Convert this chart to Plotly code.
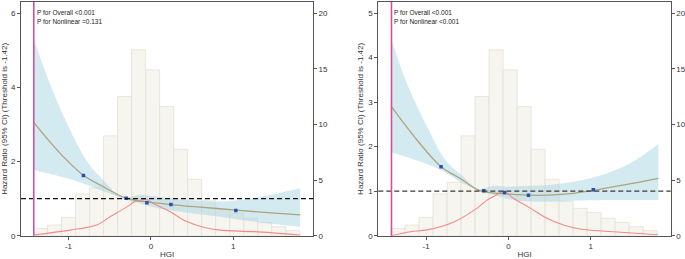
import numpy as np
import plotly.graph_objects as go

# ---------------- data ----------------
threshold = -1.42
bin_width = 0.170
hist_start_left = -1.424
hist_start_right = -1.425
counts_left = [0.66, 0.96, 1.65, 3.75, 4.3, 8.97, 12.5, 16.7, 14.9, 11.6, 7.77, 5.07, 3.14, 2.4, 2.0, 1.56, 1.17, 0.81, 0.45]
counts_right = [0.66, 0.96, 1.65, 3.75, 4.8, 8.97, 12.5, 16.7, 14.9, 11.6, 7.77, 5.07, 3.1, 2.46, 2.1, 1.56, 1.2, 0.81, 0.45]

# left panel: HR curve
curve_x_left = [-1.424, -1.10, -0.818, -0.576, -0.30, -0.05, 0.24, 0.60, 1.03, 1.42, 1.81]
curve_y_left = [3.06, 2.22, 1.63, 1.32, 1.01, 0.91, 0.84, 0.77, 0.69, 0.62, 0.56]
upper_x_left = [-1.424, -1.242, -0.979, -0.758, -0.576, -0.353, -0.13, 0.03, 0.436, 0.84, 1.24, 1.485, 1.81]
upper_y_left = [5.32, 4.20, 2.85, 1.95, 1.50, 1.05, 1.10, 1.07, 0.96, 0.92, 1.01, 1.12, 1.28]
lower_x_left = [-1.424, -1.18, -0.818, -0.576, -0.373, -0.29, -0.13, 0.03, 0.436, 0.84, 1.24, 1.81]
lower_y_left = [1.77, 1.64, 1.41, 1.20, 1.03, 0.96, 0.87, 0.77, 0.62, 0.51, 0.38, 0.24]
dots_x_left = [-0.818, -0.30, -0.048, 0.243, 1.03]
dots_y_left = [1.62, 1.01, 0.89, 0.84, 0.68]
dens_x_left = [-1.424, -0.98, -0.656, -0.495, -0.373, -0.252, -0.212, -0.05, 0.03, 0.23, 0.435, 0.636, 0.84, 1.24, 1.81]
dens_y_left = [0.02, 0.15, 0.29, 0.51, 0.67, 0.83, 0.90, 0.97, 0.87, 0.65, 0.38, 0.23, 0.15, 0.11, 0.02]

# right panel
curve_x_right = [-1.425, -1.11, -0.818, -0.58, -0.36, -0.05, 0.24, 0.466, 0.79, 1.03, 1.28, 1.82]
curve_y_right = [2.91, 2.15, 1.55, 1.28, 1.02, 0.94, 0.91, 0.91, 0.95, 1.02, 1.10, 1.29]
upper_x_right = [-1.425, -1.25, -0.988, -0.765, -0.58, -0.36, -0.18, -0.02, 0.27, 0.67, 1.07, 1.48, 1.82]
upper_y_right = [4.44, 3.50, 2.45, 1.70, 1.38, 1.05, 1.12, 1.10, 1.12, 1.18, 1.33, 1.63, 2.06]
lower_x_right = [-1.425, -1.19, -0.826, -0.58, -0.38, -0.30, -0.18, 0.06, 0.47, 0.87, 1.28, 1.82]
lower_y_right = [1.87, 1.74, 1.48, 1.20, 1.04, 0.97, 0.915, 0.80, 0.76, 0.79, 0.80, 0.80]
dots_x_right = [-0.818, -0.30, -0.048, 0.243, 1.03]
dots_y_right = [1.55, 1.01, 0.97, 0.91, 1.03]
dens_x_right = [-1.425, -1.19, -0.988, -0.663, -0.38, -0.26, -0.18, -0.052, 0.06, 0.264, 0.467, 0.668, 0.87, 1.276, 1.815]
dens_y_right = [0.0, 0.09, 0.13, 0.31, 0.62, 0.80, 0.88, 0.99, 0.84, 0.62, 0.39, 0.24, 0.15, 0.09, 0.02]

p_texts_left = ["P for Overall <0.001", "P for Nonlinear =0.131"]
p_texts_right = ["P for Overall <0.001", "P for Nonlinear <0.001"]
ytitle = "Hazard Ratio (95% CI) (Threshold is -1.42)"
xtitle = "HGI"

# ---------------- styles ----------------
W, H = 685, 259
FONT = "Liberation Sans, Arial, sans-serif"
BAR_FILL = "#f6f5f0"
BAR_LINE = "#e4e2d4"
BAND = "rgba(160,208,224,0.45)"
CURVE = "#aba47c"
DENS = "#f28a8a"
DOT = "#2a50b8"
PINK = "#d4509e"
AX = "#555555"

fig = go.Figure()


def add_panel(xa, ya_cnt, ya_hr, start, counts, cx, cy, ux, uy, lx, ly, dx, dy, nx, ny):
    centers = [start + bin_width * (i + 0.5) for i in range(len(counts))]
    fig.add_trace(go.Bar(x=centers, y=counts, width=bin_width, xaxis=xa, yaxis=ya_cnt,
                         marker=dict(color=BAR_FILL, line=dict(color=BAR_LINE, width=0.8)),
                         showlegend=False, hoverinfo="skip"))
    fig.add_trace(go.Scatter(x=lx, y=ly, mode="lines", line=dict(width=0, shape="spline"),
                             xaxis=xa, yaxis=ya_hr, showlegend=False, hoverinfo="skip"))
    fig.add_trace(go.Scatter(x=ux, y=uy, mode="lines", fill="tonexty", fillcolor=BAND,
                             line=dict(width=0, shape="spline"),
                             xaxis=xa, yaxis=ya_hr, showlegend=False, hoverinfo="skip"))
    fig.add_trace(go.Scatter(x=nx, y=ny, mode="lines", line=dict(color=DENS, width=1.1, shape="spline"),
                             xaxis=xa, yaxis=ya_hr, showlegend=False))
    fig.add_trace(go.Scatter(x=cx, y=cy, mode="lines", line=dict(color=CURVE, width=1.3, shape="spline"),
                             xaxis=xa, yaxis=ya_hr, showlegend=False))
    fig.add_trace(go.Scatter(x=dx, y=dy, mode="markers", marker=dict(color=DOT, size=3.5, symbol="square"),
                             xaxis=xa, yaxis=ya_hr, showlegend=False))


add_panel("x", "y", "y2", hist_start_left, counts_left, curve_x_left, curve_y_left,
          upper_x_left, upper_y_left, lower_x_left, lower_y_left, dots_x_left, dots_y_left,
          dens_x_left, dens_y_left)
add_panel("x2", "y3", "y4", hist_start_right, counts_right, curve_x_right, curve_y_right,
          upper_x_right, upper_y_right, lower_x_right, lower_y_right, dots_x_right, dots_y_right,
          dens_x_right, dens_y_right)

ydom = [1 - 235.7 / H, 1 - 2.0 / H]
xdom_l = [21.0 / W, 313.0 / W]
xdom_r = [378.3 / W, 670.7 / W]

tickfont = dict(family=FONT, size=8, color="#333333")
common_axis = dict(showline=True, linecolor=AX, linewidth=1, ticks="outside", ticklen=3,
                   tickcolor=AX, tickwidth=1, showgrid=False, zeroline=False, tickfont=tickfont,
                   automargin=False)
titlefont = dict(family=FONT, size=8, color="#333333")

fig.update_layout(
    width=W, height=H, margin=dict(l=0, r=0, t=0, b=0, autoexpand=False),
    paper_bgcolor="white", plot_bgcolor="white", showlegend=False,
    font=dict(family=FONT, size=8, color="#333333"),
    barmode="overlay",
    xaxis=dict(domain=xdom_l, range=[-1.575, 1.966], anchor="y", tickvals=[-1, 0, 1],
               ticktext=["-1", "0", "1"], mirror=True,
               title=dict(text=xtitle, standoff=1, font=titlefont), **common_axis),
    yaxis=dict(domain=ydom, range=[0, 21], anchor="x", side="right", tickvals=[0, 5, 10, 15, 20],
               **common_axis),
    yaxis2=dict(domain=ydom, range=[0, 6.3], anchor="x", overlaying="y", side="left",
                tickvals=[0, 2, 4, 6],
                title=dict(text=ytitle, standoff=3, font=titlefont), **common_axis),
    xaxis2=dict(domain=xdom_r, range=[-1.58, 1.97], anchor="y3", tickvals=[-1, 0, 1],
                ticktext=["-1", "0", "1"], mirror=True,
                title=dict(text=xtitle, standoff=1, font=titlefont), **common_axis),
    yaxis3=dict(domain=ydom, range=[0, 21], anchor="x2", side="right", tickvals=[0, 5, 10, 15, 20],
                **common_axis),
    yaxis4=dict(domain=ydom, range=[0, 5.25], anchor="x2", overlaying="y3", side="left",
                tickvals=[0, 1, 2, 3, 4, 5],
                title=dict(text=ytitle, standoff=3, font=titlefont), **common_axis),
)

shapes = []
for xa, ya, dashcol in [("x", "y2", "#111111"), ("x2", "y4", "#3a3a3a")]:
    shapes.append(dict(type="line", xref=f"{xa} domain", yref=ya, x0=0, x1=1, y0=1, y1=1,
                       line=dict(color=dashcol, width=1.2, dash="5px,3px"), layer="above"))
for xa, ya in [("x", "y2"), ("x2", "y4")]:
    shapes.append(dict(type="line", xref=xa, yref=f"{ya} domain", x0=threshold, x1=threshold, y0=0, y1=1,
                       line=dict(color=PINK, width=1.6), layer="above"))
fig.update_layout(shapes=shapes)

annots = []
for xa, ya, texts in [("x", "y2", p_texts_left), ("x2", "y4", p_texts_right)]:
    for i, t in enumerate(texts):
        annots.append(dict(text=t, xref=f"{xa} domain", yref=f"{ya} domain", x=0.048, y=0.953 - i * 0.037,
                           xanchor="left", yanchor="middle", showarrow=False,
                           font=dict(family=FONT, size=6.5, color="#222222")))
fig.update_layout(annotations=annots)

fig.write_html("out.html", config={"displayModeBar": False},
               post_script="document.body.style.margin='0px';document.body.style.padding='0px';")
